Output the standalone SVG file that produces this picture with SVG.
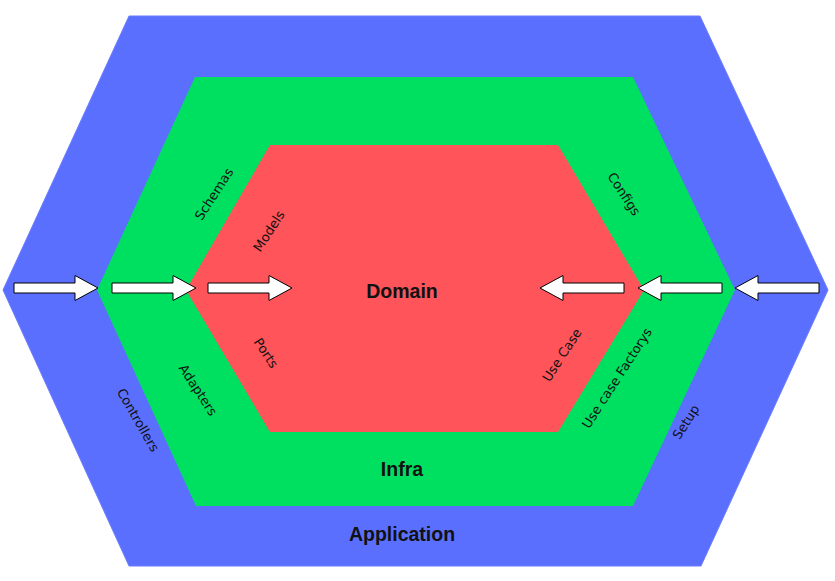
<svg xmlns="http://www.w3.org/2000/svg" xmlns:xlink="http://www.w3.org/1999/xlink" width="835" height="581" viewBox="0 0 835 581">
  <style>
    .lbl { font-family: "DejaVu Sans", "Liberation Sans", sans-serif; font-size: 13px; fill: #111; text-anchor: middle; dominant-baseline: central; }
    .ttl { font-family: "Liberation Sans", Arial, sans-serif; font-size: 19.5px; font-weight: bold; fill: #111; text-anchor: middle; }
    .arrow { fill: #ffffff; stroke: #000000; stroke-width: 1; }
  </style>
  <defs>
    <path id="arr" class="arrow" d="M0,-5 L61,-5 L61,-12.5 L84,0 L61,12.5 L61,5 L0,5 Z"/>
  </defs>
  <rect width="835" height="581" fill="#ffffff"/>

  <g id="application">
    <polygon points="129,16 700,16 828,290 701,566 129,566 3,290" fill="#5B6FFF" stroke="#6A7CFF" stroke-width="1"/>
    <text class="ttl" x="402" y="541">Application</text>
    <text class="lbl" transform="translate(138,420) rotate(60)">Controllers</text>
    <text class="lbl" transform="translate(686,422) rotate(-57)">Setup</text>
  </g>

  <g id="infra">
    <polygon points="195,77 633,77 735,290 633,506 196,506 97,290" fill="#00E060"/>
    <text class="ttl" x="402" y="476">Infra</text>
    <text class="lbl" transform="translate(214,194) rotate(-57)">Schemas</text>
    <text class="lbl" transform="translate(198,390) rotate(57)">Adapters</text>
    <text class="lbl" transform="translate(624,194) rotate(57)">Configs</text>
    <text class="lbl" transform="translate(617,378) rotate(-57)">Use case Factorys</text>
  </g>

  <g id="domain">
    <polygon points="270,145 558,145 644,290 558,432 270,432 186,290" fill="#FF5459"/>
    <text class="ttl" x="402" y="298">Domain</text>
    <text class="lbl" transform="translate(269,231) rotate(-57)">Models</text>
    <text class="lbl" transform="translate(266,353) rotate(57)">Ports</text>
    <text class="lbl" transform="translate(562,355) rotate(-57)">Use Case</text>
  </g>

  <g id="connectors">
    <use xlink:href="#arr" transform="translate(14,288)"/>
    <use xlink:href="#arr" transform="translate(112,288)"/>
    <use xlink:href="#arr" transform="translate(208,288)"/>
    <use xlink:href="#arr" transform="translate(624,288) scale(-1,1)"/>
    <use xlink:href="#arr" transform="translate(722,288) scale(-1,1)"/>
    <use xlink:href="#arr" transform="translate(819,288) scale(-1,1)"/>
  </g>
</svg>
